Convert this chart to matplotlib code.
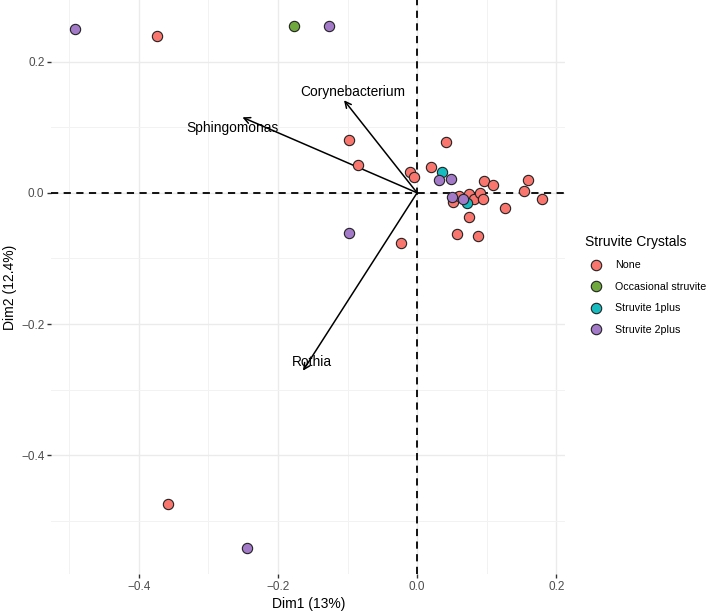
import matplotlib
matplotlib.use("Agg")
import matplotlib.pyplot as plt
from matplotlib.lines import Line2D

plt.rcParams["font.family"] = ["Liberation Sans", "DejaVu Sans"]

# individuals, by struvite group
none_x = [-0.374, -0.098, -0.085, -0.010, -0.004, -0.023, -0.358, 0.042, 0.020,
          0.096, 0.109, 0.160, 0.154, 0.179, 0.127, 0.075, 0.057, 0.087,
          0.052, 0.060, 0.074, 0.082, 0.091, 0.094]
none_y = [0.239, 0.080, 0.042, 0.031, 0.024, -0.077, -0.474, 0.078, 0.039,
          0.018, 0.012, 0.020, 0.003, -0.010, -0.023, -0.037, -0.062, -0.066,
          -0.014, -0.005, -0.002, -0.010, 0.000, -0.009]
occ_x = [-0.177]
occ_y = [0.254]
plus1_x = [0.036, 0.071]
plus1_y = [0.031, -0.015]
plus2_x = [-0.492, -0.127, -0.098, -0.245, 0.032, 0.048, 0.050, 0.066]
plus2_y = [0.249, 0.254, -0.061, -0.541, 0.020, 0.021, -0.007, -0.009]

groups = ["None", "Occasional struvite", "Struvite 1plus", "Struvite 2plus"]
colors = ["#F8766D", "#6FA83C", "#17BCC0", "#A27AC8"]

# variable arrows
var_names = ["Sphingomonas", "Corynebacterium", "Rothia"]
var_x = [-0.251, -0.105, -0.164]
var_y = [0.115, 0.141, -0.271]
lab_x = [-0.266, -0.093, -0.151]
lab_y = [0.099, 0.154, -0.257]

fig = plt.figure(figsize=(7.09, 6.12), dpi=100)
ax = fig.add_axes([0.0725, 0.062, 0.7244, 0.938])

ax.axhline(0, color="black", ls=(0, (4, 3)), lw=1.3, zorder=2)
ax.axvline(0, color="black", ls=(0, (4, 3)), lw=1.3, zorder=2)

for i in range(len(var_names)):
    ax.annotate("", xy=(var_x[i], var_y[i]), xytext=(0, 0),
                arrowprops=dict(arrowstyle="->", color="black", lw=1.1,
                                mutation_scale=11, shrinkA=0, shrinkB=0),
                zorder=3)
    ax.text(lab_x[i], lab_y[i], var_names[i], ha="center", va="center",
            fontsize=9.9, color="black", zorder=4)

data = [(none_x, none_y), (occ_x, occ_y), (plus1_x, plus1_y), (plus2_x, plus2_y)]
for (xs, ys), c in zip(data, colors):
    ax.scatter(xs, ys, s=55, c=c, edgecolors="#222222", linewidths=0.8, zorder=5)

ax.margins(x=0.05, y=0.05)
ax.set_xticks([-0.4, -0.2, 0.0, 0.2])
ax.set_yticks([-0.4, -0.2, 0.0, 0.2])
ax.set_xticks([-0.5, -0.3, -0.1, 0.1], minor=True)
ax.set_yticks([-0.5, -0.3, -0.1, 0.1], minor=True)
ax.xaxis.set_major_formatter(lambda v, p: f"{v:.1f}".replace("-", "\u2212"))
ax.yaxis.set_major_formatter(lambda v, p: f"{v:.1f}".replace("-", "\u2212"))
ax.grid(True, which="major", color="#EBEBEB", lw=1.0, zorder=0)
ax.grid(True, which="minor", color="#F2F2F2", lw=0.7, zorder=0)
ax.set_axisbelow(True)
for s in ax.spines.values():
    s.set_visible(False)
ax.tick_params(which="major", length=3, width=1, color="#333333",
               labelsize=8.5, labelcolor="#4D4D4D", pad=2)
ax.tick_params(which="minor", length=0)
ax.set_xlabel("Dim1 (13%)", fontsize=10, labelpad=3)
ax.set_ylabel("Dim2 (12.4%)", fontsize=10, labelpad=3)

handles = [Line2D([], [], ls="", marker="o", markersize=7.5, markerfacecolor=c,
                  markeredgecolor="#222222", markeredgewidth=0.8) for c in colors]
leg = fig.legend(handles, groups, title="Struvite Crystals", loc="upper left",
                 bbox_to_anchor=(0.819, 0.623), frameon=False, fontsize=7.7,
                 title_fontsize=10, handletextpad=0.8, labelspacing=1.07,
                 borderaxespad=0, handlelength=2.0)
leg._legend_box.align = "left"

fig.savefig("out.png", dpi=100)
